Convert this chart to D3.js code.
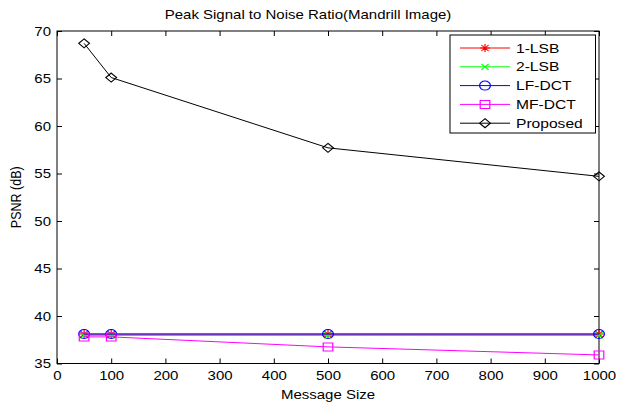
<!DOCTYPE html>
<html><head><meta charset="utf-8">
<script src="https://cdn.jsdelivr.net/npm/d3@7"></script>
<style>body{margin:0;background:#fff}svg{display:block}text{font-family:"Liberation Sans",Arial,sans-serif}</style>
</head><body>
<script>
const messageSizes = [50, 100, 500, 1000];
const lsb1 = [38.1, 38.1, 38.1, 38.1];
const lsb2 = [37.95, 37.95, 37.95, 37.95];
const lfDct = [38.1, 38.1, 38.1, 38.1];
const mfDct = [37.8, 37.8, 36.75, 35.9];
const proposed = [68.7, 65.1, 57.7, 54.7];
const seriesNames = ["1-LSB", "2-LSB", "LF-DCT", "MF-DCT", "Proposed"];
const xTicks = [0,100,200,300,400,500,600,700,800,900,1000];
const yTicks = [35,40,45,50,55,60,65,70];

const W = 617, H = 405, SX = 1.2;
const m = {l:57, r:18, t:31, b:41.5};
const svg = d3.select("body").append("svg").attr("width", W).attr("height", H);
const x = d3.scaleLinear().domain([0,1000]).range([m.l, W - m.r]);
const y = d3.scaleLinear().domain([35,70]).range([H - m.b, m.t]);

const series = [
  {name: seriesNames[0], vals: lsb1, color: "#ff0000", marker: "star"},
  {name: seriesNames[1], vals: lsb2, color: "#00ff00", marker: "x"},
  {name: seriesNames[2], vals: lfDct, color: "#0000ff", marker: "circle"},
  {name: seriesNames[3], vals: mfDct, color: "#ff00ff", marker: "square"},
  {name: seriesNames[4], vals: proposed, color: "#000000", marker: "diamond"}
];

function markerPath(type) {
  switch(type) {
    case "star": return "M-4,0H4M0,-4V4M-3,-3L3,3M-3,3L3,-3";
    case "x": return "M-3,-3L3,3M-3,3L3,-3";
    case "circle": return "M-4.5,0A4.5,4.5 0 1,0 4.5,0A4.5,4.5 0 1,0 -4.5,0";
    case "square": return "M-4,-4H4V4H-4Z";
    case "diamond": return "M0,-4.5L4.5,0L0,4.5L-4.5,0Z";
  }
}
function drawMarker(g, type, cx, cy, color) {
  g.append("path").attr("d", markerPath(type))
    .attr("transform", `translate(${cx},${cy}) scale(${SX},1)`)
    .attr("fill", "none").attr("stroke", color).attr("stroke-width", 1);
}

const fs = 12.5;
function styleAxis(g) {
  g.select(".domain").remove();
  g.selectAll("line").attr("stroke", "#000");
  g.selectAll("text").attr("font-size", fs).attr("fill", "#000");
}
const xb = svg.append("g").attr("transform", `translate(0,${H - m.b})`)
  .call(d3.axisBottom(x).tickValues(xTicks).tickSize(-5).tickPadding(8).tickFormat(d3.format("d")));
styleAxis(xb);
xb.selectAll("text").attr("transform", `scale(${SX},1)`);
const xt = svg.append("g").attr("transform", `translate(0,${m.t})`)
  .call(d3.axisTop(x).tickValues(xTicks).tickSize(-5).tickFormat(""));
styleAxis(xt);
const yl = svg.append("g").attr("transform", `translate(${m.l},0)`)
  .call(d3.axisLeft(y).tickValues(yTicks).tickSize(-5).tickPadding(4).tickFormat(d3.format("d")));
styleAxis(yl);
yl.selectAll("text").attr("x", null).attr("transform", `translate(-6,0) scale(${SX},1)`).attr("text-anchor", "end");
const yr = svg.append("g").attr("transform", `translate(${W - m.r},0)`)
  .call(d3.axisRight(y).tickValues(yTicks).tickSize(-5).tickFormat(""));
styleAxis(yr);

svg.append("rect").attr("x", m.l).attr("y", m.t).attr("width", W - m.r - m.l).attr("height", H - m.b - m.t)
  .attr("fill", "none").attr("stroke", "#000").attr("stroke-width", 1);

const line = d3.line().x((d,i) => x(messageSizes[i])).y(d => y(d));
series.forEach(s => {
  const g = svg.append("g");
  g.append("path").datum(s.vals).attr("d", line).attr("fill", "none").attr("stroke", s.color).attr("stroke-width", 1);
  s.vals.forEach((v,i) => drawMarker(g, s.marker, x(messageSizes[i]), y(v), s.color));
});

svg.append("text").attr("transform", `translate(308,19) scale(${SX},1)`)
  .attr("text-anchor", "middle").attr("font-size", fs).text("Peak Signal to Noise Ratio(Mandrill Image)");
svg.append("text").attr("transform", `translate(${(m.l + W - m.r)/2},399) scale(${SX},1)`)
  .attr("text-anchor", "middle").attr("font-size", fs).text("Message Size");
svg.append("text").attr("transform", `translate(21,${(m.t + H - m.b)/2}) scale(${SX},1) rotate(-90)`)
  .attr("text-anchor", "middle").attr("font-size", fs).text("PSNR (dB)");

const lg = svg.append("g");
lg.append("rect").attr("x", 450).attr("y", 35).attr("width", 145.5).attr("height", 98)
  .attr("fill", "#fff").attr("stroke", "#000").attr("stroke-width", 1);
series.forEach((s,i) => {
  const ly = 48 + i * 18.8;
  lg.append("line").attr("x1", 460).attr("x2", 510).attr("y1", ly).attr("y2", ly).attr("stroke", s.color).attr("stroke-width", 1);
  drawMarker(lg, s.marker, 485, ly, s.color);
  lg.append("text").attr("transform", `translate(516,${ly + 4.5}) scale(${SX},1)`)
    .attr("font-size", 13).text(s.name);
});
</script>
</body></html>
